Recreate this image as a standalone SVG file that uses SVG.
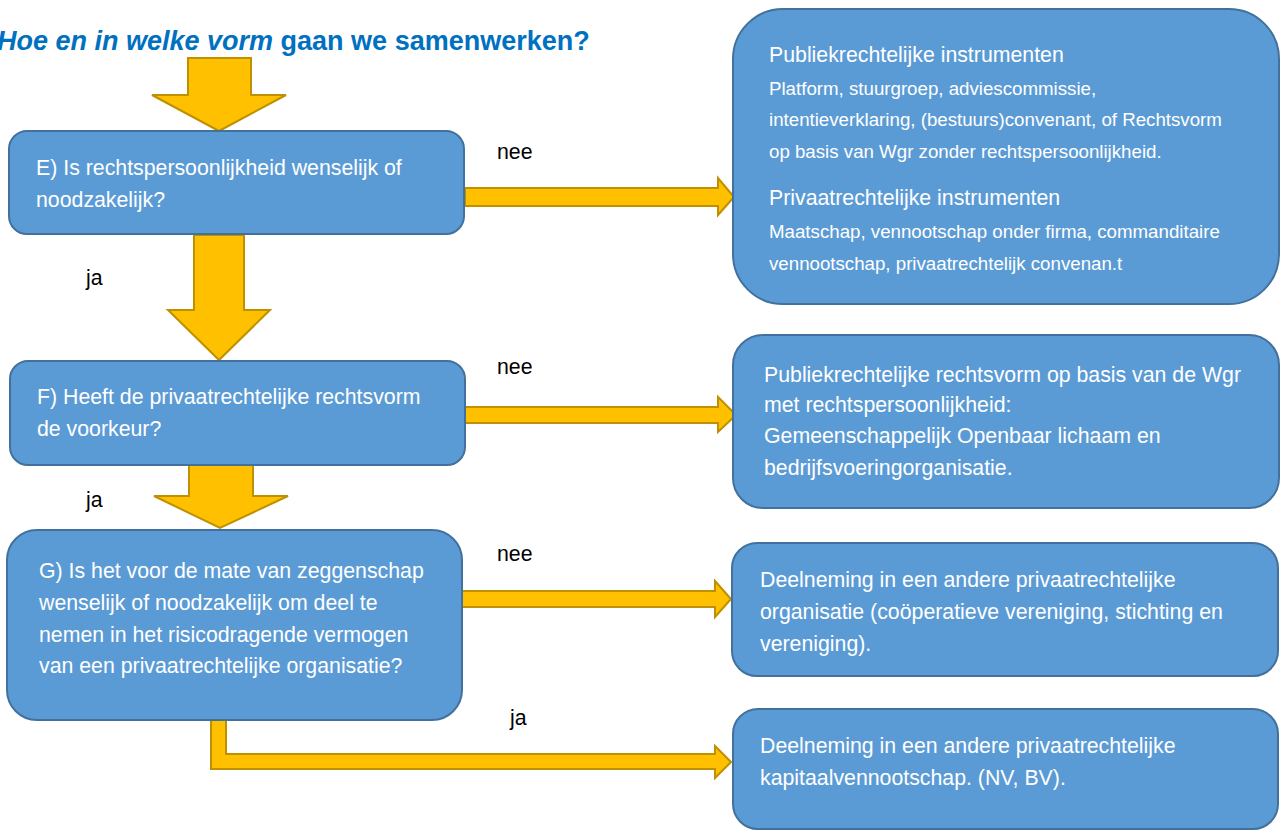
<svg xmlns="http://www.w3.org/2000/svg" width="1284" height="832" viewBox="0 0 1284 832">
<style>
.box{fill:#5B9BD5;stroke:#41719C;stroke-width:2}
.arr{fill:#FFC000;stroke:#BF9000;stroke-width:2;stroke-linejoin:miter}
.t{font-family:"Liberation Sans",Arial,sans-serif;font-size:21.3px;fill:#FFFFFF}
.s{font-family:"Liberation Sans",Arial,sans-serif;font-size:18.7px;fill:#FFFFFF}
.lbl{font-family:"Liberation Sans",Arial,sans-serif;font-size:21.3px;fill:#000000}
.title{font-family:"Liberation Sans",Arial,sans-serif;font-size:27px;font-weight:bold;fill:#0070C0}
</style>
<rect width="1284" height="832" fill="#FFFFFF"/>
<text class="title" x="-3" y="50"><tspan font-style="italic">Hoe en in welke vorm</tspan> gaan we samenwerken?</text>
<g id="connectors">
<polygon class="arr" points="188,58 251,58 251,95 286,95 219,131 152,95 188,95"/>
<polygon class="arr" points="194,235 244,235 244,310 270,310 219,360 168,310 194,310"/>
<polygon class="arr" points="189,465 253,465 253,496 288,496 220,528 154,496 189,496"/>
<polygon class="arr" points="465,188 718,188 718,178 734,197 718,215 718,206 465,206"/>
<polygon class="arr" points="465,407 718,407 718,397 736,415 718,432 718,423 465,423"/>
<polygon class="arr" points="462,591 715,591 715,581 731,599 715,617 715,607 462,607"/>
<polygon class="arr" points="211,720 226,720 226,754 715,754 715,746 731,762 715,778 715,769 211,769"/>
<text class="lbl" x="497" y="159">nee</text>
<text class="lbl" x="86" y="285">ja</text>
<text class="lbl" x="497" y="374">nee</text>
<text class="lbl" x="86" y="507">ja</text>
<text class="lbl" x="497" y="561">nee</text>
<text class="lbl" x="510" y="725">ja</text>
</g>
<g id="nodeE">
<rect class="box" x="9" y="131" width="455" height="103" rx="18"/>
<text class="t" x="36" y="175">E) Is rechtspersoonlijkheid wenselijk of</text>
<text class="t" x="36" y="207">noodzakelijk?</text>
</g>
<g id="nodeF">
<rect class="box" x="10" y="361" width="455" height="104" rx="18"/>
<text class="t" x="37" y="404">F) Heeft de privaatrechtelijke rechtsvorm</text>
<text class="t" x="37" y="436">de voorkeur?</text>
</g>
<g id="nodeG">
<rect class="box" x="7" y="530" width="455" height="190" rx="30"/>
<text class="t" x="39" y="578">G) Is het voor de mate van zeggenschap</text>
<text class="t" x="39" y="610">wenselijk of noodzakelijk om deel te</text>
<text class="t" x="39" y="642">nemen in het risicodragende vermogen</text>
<text class="t" x="39" y="673">van een privaatrechtelijke organisatie?</text>
</g>
<g id="nodeR1">
<rect class="box" x="733" y="9" width="546" height="295" rx="50"/>
<text class="t" x="769" y="62">Publiekrechtelijke instrumenten</text>
<text class="s" x="769" y="95">Platform, stuurgroep, adviescommissie,</text>
<text class="s" x="769" y="126">intentieverklaring, (bestuurs)convenant, of Rechtsvorm</text>
<text class="s" x="769" y="158">op basis van Wgr zonder rechtspersoonlijkheid.</text>
<text class="t" x="769" y="205">Privaatrechtelijke instrumenten</text>
<text class="s" x="769" y="238">Maatschap, vennootschap onder firma, commanditaire</text>
<text class="s" x="769" y="270">vennootschap, privaatrechtelijk convenan.t</text>
</g>
<g id="nodeR2">
<rect class="box" x="733" y="335" width="546" height="173" rx="30"/>
<text class="t" x="764" y="382">Publiekrechtelijke rechtsvorm op basis van de Wgr</text>
<text class="t" x="764" y="412">met rechtspersoonlijkheid:</text>
<text class="t" x="764" y="443">Gemeenschappelijk Openbaar lichaam en</text>
<text class="t" x="764" y="475">bedrijfsvoeringorganisatie.</text>
</g>
<g id="nodeR3">
<rect class="box" x="732" y="543" width="546" height="133" rx="25"/>
<text class="t" x="760" y="587">Deelneming in een andere privaatrechtelijke</text>
<text class="t" x="760" y="619">organisatie (coöperatieve vereniging, stichting en</text>
<text class="t" x="760" y="651">vereniging).</text>
</g>
<g id="nodeR4">
<rect class="box" x="733" y="709" width="545" height="120" rx="25"/>
<text class="t" x="760" y="753">Deelneming in een andere privaatrechtelijke</text>
<text class="t" x="760" y="785">kapitaalvennootschap. (NV, BV).</text>
</g>
</svg>
